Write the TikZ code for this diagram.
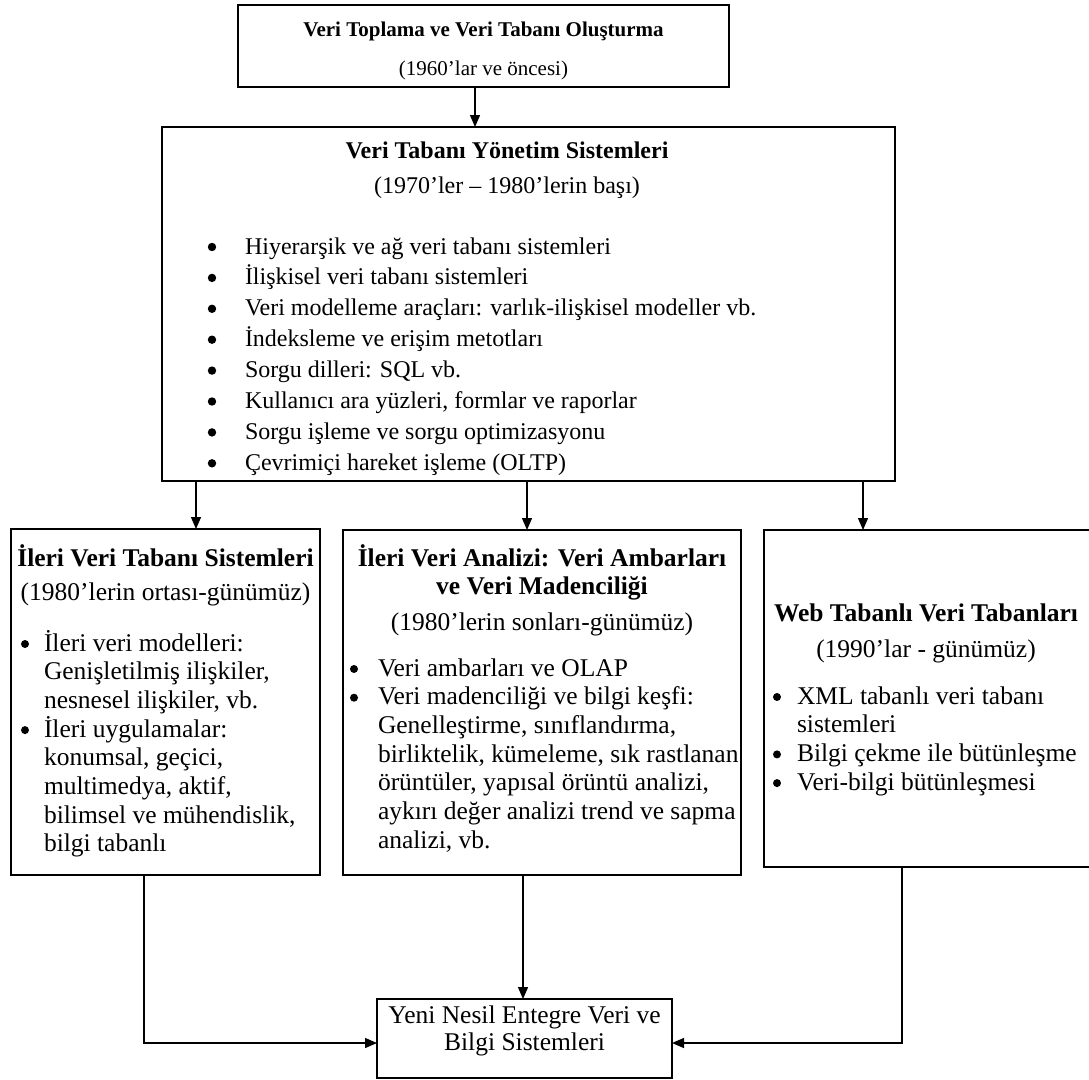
\documentclass[tikz,border=0pt]{standalone}
\usepackage{fontspec}
\setmainfont{Liberation Serif}
\usetikzlibrary{arrows.meta}

% type sizes for the three levels of boxes
\newcommand\fontTop{\fontsize{21}{25}\selectfont}
\newcommand\fontMid{\fontsize{24}{31}\selectfont}
\newcommand\fontLow{\fontsize{25.5}{28.7}\selectfont}

% left-aligned stack of lines with a fixed baseline distance;
% the stack's baseline is that of its first line
\newcommand\linestack[2]{\vtop{\baselineskip=#1\lineskiplimit=-100pt\lineskip=0pt\relax
  \halign{##\hfil\cr#2\crcr}}}

\begin{document}
\begin{tikzpicture}[x=1pt,y=-1pt,
  box/.style={draw=black, line width=1.4pt, outer sep=0pt, inner sep=0pt,
              anchor=north west},
  conn/.style={draw=black, line width=1.3pt},
  arr/.style={conn, -{Triangle[length=12pt,width=10pt]}},
  txt/.style={inner sep=0pt, outer sep=0pt, anchor=base},
  list/.style={inner sep=0pt, outer sep=0pt, anchor=base west, align=left},
  dot/.style={fill=black},
]
\clip (0,0) rectangle (1089,1079);
\useasboundingbox (0,0) rectangle (1089,1079);

% ---- boxes ----
\node[box, minimum width=491pt, minimum height=82pt]  (top)  at (238,5)   {};
\node[box, minimum width=733pt, minimum height=354pt] (dbms) at (162,127) {};
\node[box, minimum width=309pt, minimum height=346pt] (adv)  at (11,529)  {};
\node[box, minimum width=398pt, minimum height=345pt] (ana)  at (343,530) {};
\node[box, minimum width=340pt, minimum height=337pt] (web)  at (764,530) {};
\node[box, minimum width=295pt, minimum height=79pt]  (next) at (377,999) {};

% ---- top box ----
\node[txt, font=\fontTop\bfseries] (topT) at (483.5,36) {Veri Toplama ve Veri Tabanı Oluşturma};
\node[txt, font=\fontTop] (topS) at (483.5,75) {(1960’lar ve öncesi)};

% ---- database management systems ----
\node[txt, font=\fontMid\bfseries] (dbmsT) at (507,158) {Veri Tabanı Yönetim Sistemleri};
\node[txt, font=\fontMid] (dbmsS) at (507,193) {(1970’ler – 1980’lerin başı)};
\node[list, font=\fontMid] (dbmsL) at (245,254) {\linestack{30.9pt}{%
  Hiyerarşik ve ağ veri tabanı sistemleri\cr
  İlişkisel veri tabanı sistemleri\cr
  Veri modelleme araçları: varlık-ilişkisel modeller vb.\cr
  İndeksleme ve erişim metotları\cr
  Sorgu dilleri: SQL vb.\cr
  Kullanıcı ara yüzleri, formlar ve raporlar\cr
  Sorgu işleme ve sorgu optimizasyonu\cr
  Çevrimiçi hareket işleme (OLTP)}};
\foreach \k in {0,...,7}
  \fill[dot] (212,{247+\k*30.9}) circle (4.2pt);

% ---- advanced database systems ----
\node[txt, font=\fontLow\bfseries] (advT) at (165.5,566) {İleri Veri Tabanı Sistemleri};
\node[txt, font=\fontLow] (advS) at (165.5,600) {(1980’lerin ortası-günümüz)};
\node[list, font=\fontLow] (advL) at (44,651) {\linestack{28.7pt}{%
  İleri veri modelleri:\cr
  Genişletilmiş ilişkiler,\cr
  nesnesel ilişkiler, vb.\cr
  İleri uygulamalar:\cr
  konumsal, geçici,\cr
  multimedya, aktif,\cr
  bilimsel ve mühendislik,\cr
  bilgi tabanlı}};
\foreach \k in {0,3}
  \fill[dot] (25,{644+\k*28.7}) circle (4pt);

% ---- advanced data analysis ----
\node[txt, font=\fontLow\bfseries] (anaT1) at (542,566) {İleri Veri Analizi: Veri Ambarları};
\node[txt, font=\fontLow\bfseries] (anaT2) at (542,594) {ve Veri Madenciliği};
\node[txt, font=\fontLow] (anaS) at (542,630) {(1980’lerin sonları-günümüz)};
\node[list, font=\fontLow] (anaL) at (378,676) {\linestack{28.7pt}{%
  Veri ambarları ve OLAP\cr
  Veri madenciliği ve bilgi keşfi:\cr
  Genelleştirme, sınıflandırma,\cr
  birliktelik, kümeleme, sık rastlanan\cr
  örüntüler, yapısal örüntü analizi,\cr
  aykırı değer analizi trend ve sapma\cr
  analizi, vb.}};
\foreach \k in {0,1}
  \fill[dot] (354,{669+\k*28.7}) circle (4pt);

% ---- web based databases ----
\node[txt, font=\fontLow\bfseries] (webT) at (926,621) {Web Tabanlı Veri Tabanları};
\node[txt, font=\fontLow] (webS) at (926,657) {(1990’lar - günümüz)};
\node[list, font=\fontLow] (webL) at (797,704) {\linestack{28.7pt}{%
  XML tabanlı veri tabanı\cr
  sistemleri\cr
  Bilgi çekme ile bütünleşme\cr
  Veri-bilgi bütünleşmesi}};
\foreach \k in {0,2,3}
  \fill[dot] (777,{697+\k*28.7}) circle (4pt);

% ---- next generation systems ----
\node[txt, font=\fontLow] (nextT1) at (524.5,1023) {Yeni Nesil Entegre Veri ve};
\node[txt, font=\fontLow] (nextT2) at (524.5,1050) {Bilgi Sistemleri};

% ---- connectors ----
\coordinate (xTop) at (475,0);
\coordinate (xA)   at (196,0);
\coordinate (xB)   at (527,0);
\coordinate (xC)   at (863,0);
\coordinate (xL)   at (144,0);
\coordinate (xM)   at (523,0);
\coordinate (xR)   at (902,0);
\coordinate (yIn)  at (0,1043);

\draw[arr] (top.south -| xTop) -- (dbms.north -| xTop);
\draw[arr] (dbms.south -| xA) -- (adv.north -| xA);
\draw[arr] (dbms.south -| xB) -- (ana.north -| xB);
\draw[arr] (dbms.south -| xC) -- (web.north -| xC);
\draw[arr] (adv.south -| xL) |- (next.west |- yIn);
\draw[arr] (ana.south -| xM) -- (next.north -| xM);
\draw[arr] (web.south -| xR) |- (next.east |- yIn);
\end{tikzpicture}
\end{document}
